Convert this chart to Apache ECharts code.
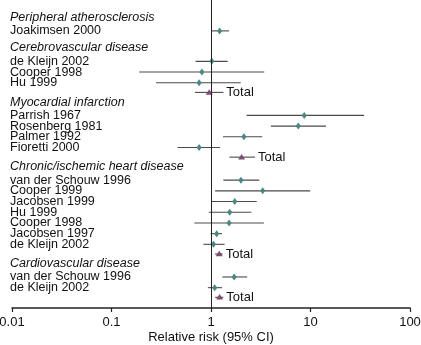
<!DOCTYPE html>
<html>
<head>
<meta charset="utf-8">
<script src="https://cdn.jsdelivr.net/npm/echarts@6/dist/echarts.min.js"></script>
<style>
html,body{margin:0;padding:0;background:#fff;}
#chart{width:421px;height:345px;}
</style>
</head>
<body>
<div id="chart"></div>
<script>
// ---- data ----
var groupNames = ['Peripheral atherosclerosis', 'Cerebrovascular disease', 'Myocardial infarction', 'Chronic/ischemic heart disease', 'Cardiovascular disease'];
var studyNames = ['Joakimsen 2000',
  'de Kleijn 2002', 'Cooper 1998', 'Hu 1999',
  'Parrish 1967', 'Rosenberg 1981', 'Palmer 1992', 'Fioretti 2000',
  'van der Schouw 1996', 'Cooper 1999', 'Jacobsen 1999', 'Hu 1999', 'Cooper 1998', 'Jacobsen 1997', 'de Kleijn 2002',
  'van der Schouw 1996', 'de Kleijn 2002'];
var studyGroup = [0, 1, 1, 1, 2, 2, 2, 2, 3, 3, 3, 3, 3, 3, 3, 4, 4];
var studyRR = [1.22, 1.02, 0.81, 0.76, 8.65, 7.53, 2.14, 0.76, 2.0, 3.31, 1.73, 1.54, 1.52, 1.14, 1.06, 1.71, 1.09];
var studyLo = [1.0, 0.70, 0.19, 0.28, 2.28, 4.0, 1.32, 0.46, 1.33, 1.10, 1.02, 0.95, 0.68, 0.99, 0.84, 1.30, 0.93];
var studyHi = [1.52, 1.47, 3.43, 1.99, 34.6, 14.3, 3.27, 1.23, 3.06, 9.93, 2.88, 2.54, 3.4, 1.29, 1.37, 2.31, 1.29];
var totalRR = [null, 0.96, 2.03, 1.21, 1.22];
var totalLo = [null, 0.69, 1.53, 1.10, 1.10];
var totalHi = [null, 1.33, 2.77, 1.31, 1.33];
var tickLabels = ['0.01', '0.1', '1', '10', '100'];
var totalLabel = 'Total';
var axisTitle = 'Relative risk (95% CI)';

// ---- row layout (in row units) ----
var HEAD_TO_STUDY = 1.25, STUDY_STEP = 1, STUDY_TO_TOTAL = 0.9, TOTAL_TO_HEAD = 0.9, STUDY_TO_HEAD = 1.6;
var rows = [];
var pos = 0, prev = null;
groupNames.forEach(function (g, gi) {
  if (prev === 'study') pos += STUDY_TO_HEAD;
  else if (prev === 'total') pos += TOTAL_TO_HEAD;
  rows.push({ kind: 'head', text: g, pos: pos });
  prev = 'head';
  studyNames.forEach(function (s, si) {
    if (studyGroup[si] !== gi) return;
    pos += (prev === 'head') ? HEAD_TO_STUDY : STUDY_STEP;
    rows.push({ kind: 'study', text: s, pos: pos, rr: studyRR[si], lo: studyLo[si], hi: studyHi[si] });
    prev = 'study';
  });
  if (totalRR[gi] != null) {
    pos += STUDY_TO_TOTAL;
    rows.push({ kind: 'total', text: totalLabel, pos: pos, rr: totalRR[gi], lo: totalLo[gi], hi: totalHi[gi] });
    prev = 'total';
  }
});

var data = rows.map(function (r, i) {
  return [r.rr || 1, r.pos, r.lo || 1, r.hi || 1, i];
});

var FONT = '"Liberation Sans", Arial, Helvetica, sans-serif';
var FS = 12.5;
var LABEL_X = 10;

function renderItem(params, api) {
  var r = rows[api.value(4)];
  var y = api.coord([1, r.pos])[1];
  var children = [];
  if (r.kind === 'head' || r.kind === 'study') {
    children.push({
      type: 'text',
      style: {
        x: LABEL_X, y: y, text: r.text, fill: '#111',
        font: (r.kind === 'head' ? 'italic ' : '') + FS + 'px ' + FONT,
        verticalAlign: 'middle', align: 'left'
      }
    });
  }
  if (r.kind === 'study' || r.kind === 'total') {
    var pm = api.coord([r.rr, r.pos]);
    var pl = api.coord([r.lo, r.pos]);
    var ph = api.coord([r.hi, r.pos]);
    children.push({
      type: 'line',
      shape: { x1: pl[0], y1: y, x2: ph[0], y2: y },
      style: { stroke: '#4a4a4a', lineWidth: 1.1 }
    });
    if (r.kind === 'study') {
      children.push({
        type: 'polygon',
        shape: { points: [[pm[0], y - 3.5], [pm[0] + 2.6, y], [pm[0], y + 3.5], [pm[0] - 2.6, y]] },
        style: { fill: '#4b8883' }
      });
    } else {
      children.push({
        type: 'polygon',
        shape: { points: [[pm[0], y - 3.2], [pm[0] + 3.5, y + 2.3], [pm[0] - 3.5, y + 2.3]] },
        style: { fill: '#7d4d6f' }
      });
      children.push({
        type: 'text',
        style: {
          x: ph[0] + 3, y: y, text: r.text, fill: '#111',
          font: '13px ' + FONT, verticalAlign: 'middle', align: 'left'
        }
      });
    }
  }
  return { type: 'group', children: children };
}

var chart = echarts.init(document.getElementById('chart'), null, { renderer: 'canvas' });
chart.setOption({
  animation: false,
  backgroundColor: '#fff',
  grid: { left: 12, right: 11, top: 0, bottom: 37, containLabel: false, outerBoundsMode: 'none' },
  xAxis: {
    type: 'log', logBase: 10, min: 0.01, max: 100,
    name: axisTitle, nameLocation: 'middle', nameGap: 23, nameMoveOverlap: false,
    nameTextStyle: { fontFamily: FONT, fontSize: 13, color: '#111', verticalAlign: 'top' },
    axisLine: { show: true, onZero: false, lineStyle: { color: '#222', width: 1.6 } },
    axisTick: { show: true, inside: false, length: 4, lineStyle: { color: '#222', width: 1.2 } },
    minorTick: { show: false },
    splitLine: { show: false },
    axisLabel: {
      margin: 8, fontFamily: FONT, fontSize: 13, color: '#111',
      formatter: function (v) {
        var k = Math.round(Math.log10(v)) + 2;
        return tickLabels[k] !== undefined ? tickLabels[k] : '';
      }
    }
  },
  yAxis: {
    type: 'value', inverse: true, min: -1.636, max: 27.15,
    show: false, splitLine: { show: false }
  },
  series: [{
    type: 'custom',
    renderItem: renderItem,
    encode: { x: [0, 2, 3], y: 1 },
    data: data,
    clip: false,
    markLine: {
      silent: true, symbol: 'none', label: { show: false },
      lineStyle: { color: '#222', width: 1, type: 'solid' },
      data: [{ xAxis: 1 }]
    }
  }]
});
</script>
</body>
</html>
